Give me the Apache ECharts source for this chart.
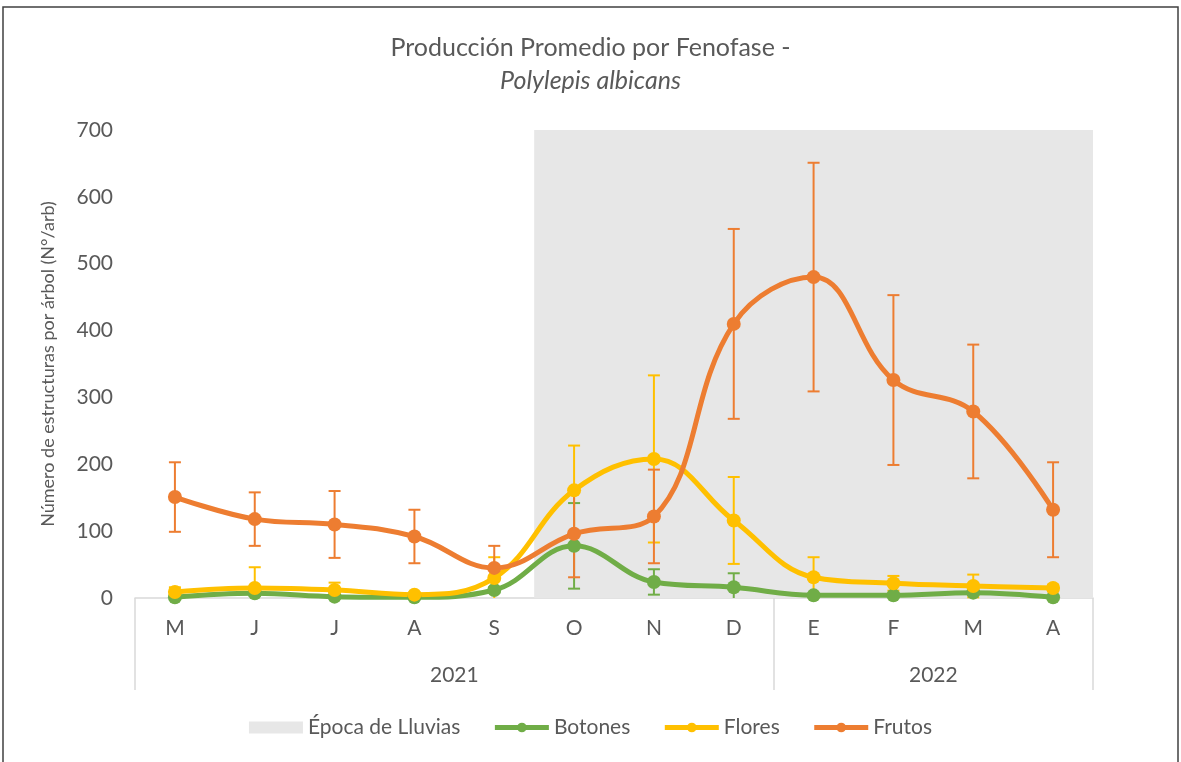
<!DOCTYPE html>
<html>
<head>
<meta charset="utf-8">
<script src="https://cdn.jsdelivr.net/npm/echarts@6/dist/echarts.min.js"></script>
<style>
  html, body { margin: 0; padding: 0; background: #fff; }
  #main { width: 1181px; height: 762px; }
</style>
</head>
<body>
<div id="main"></div>
<script>
// meses (mayo 2021 - abril 2022)
var months = ['M', 'J', 'J', 'A', 'S', 'O', 'N', 'D', 'E', 'F', 'M', 'A'];
var years = ['2021', '2022'];
var yearTicks = [0, 8, 12];      // límites de grupos (en índices de mes)
var yearCenters = [4, 10];
var rainStart = 5, rainEnd = 12; // Octubre a Abril

var botones    = [1, 7, 2, 1, 12, 78, 24, 16, 4, 4, 8, 1];
var botonesErr = [2, 4, 2, 1, 4, 64, 19, 21, 2, 2, 3, 2];
var flores     = [9, 15, 12, 5, 30, 161, 208, 116, 31, 22, 18, 15];
var floresErr  = [7, 31, 11, 3, 31, 67, 125, 65, 30, 11, 17, 5];
var frutos     = [151, 118, 110, 92, 45, 96, 122, 410, 480, 326, 279, 132];
var frutosErr  = [52, 40, 50, 40, 33, 65, 70, 142, 171, 127, 100, 71];

var cGreen = '#70AD47', cYellow = '#FFC000', cOrange = '#ED7D31';
var txt = '#595959';
var font = 'Lato, "Open Sans", sans-serif';

var chart = echarts.init(document.getElementById('main'));

function errData(vals, errs) {
  return vals.map(function (v, i) { return [i, v, errs[i]]; });
}

function errSeries(name, vals, errs, color) {
  return {
    name: name,
    type: 'custom',
    xAxisIndex: 0,
    z: 3,
    silent: true,
    data: errData(vals, errs),
    encode: { x: 0, y: [1] },
    renderItem: function (params, api) {
      var x = api.value(0), v = api.value(1), e = api.value(2);
      var top = api.coord([x, v + e]);
      var bot = api.coord([x, Math.max(v - e, 0)]);
      var w = 6;
      var st = { stroke: color, lineWidth: 2 };
      var kids = [
        { type: 'line', shape: { x1: top[0], y1: top[1], x2: bot[0], y2: bot[1] }, style: st },
        { type: 'line', shape: { x1: top[0] - w, y1: top[1], x2: top[0] + w, y2: top[1] }, style: st }
      ];
      if (v - e > 0) {
        kids.push({ type: 'line', shape: { x1: bot[0] - w, y1: bot[1], x2: bot[0] + w, y2: bot[1] }, style: st });
      }
      return { type: 'group', children: kids };
    }
  };
}

function lineSeries(name, vals, color) {
  return {
    name: name,
    type: 'line',
    xAxisIndex: 0,
    z: 4,
    data: vals,
    smooth: 0.4,
    symbol: 'circle',
    symbolSize: 14,
    lineStyle: { width: 5, color: color },
    itemStyle: { color: color },
    emphasis: { disabled: true }
  };
}

var option = {
  backgroundColor: '#fff',
  animation: false,
  textStyle: { fontFamily: font },
  title: {
    left: 'center',
    top: 26,
    text: '{a|Producción Promedio por Fenofase -}\n{b|Polylepis albicans}',
    textStyle: {
      rich: {
        a: { fontSize: 25, color: txt, fontFamily: font, fontWeight: 'normal', lineHeight: 33 },
        b: { fontSize: 25, color: txt, fontFamily: font, fontWeight: 'normal', fontStyle: 'italic', lineHeight: 33 }
      }
    }
  },
  graphic: [{
    type: 'rect',
    shape: { x: 3, y: 7, width: 1175, height: 760 },
    style: { fill: 'none', stroke: '#404040', lineWidth: 1.5 },
    silent: true
  }],
  legend: {
    top: 712,
    left: 'center',
    itemWidth: 54,
    itemHeight: 12,
    itemGap: 32,
    lineStyle: { width: 5 },
    textStyle: { fontSize: 21, color: txt, fontFamily: font },
    data: [
      { name: 'Época de Lluvias', icon: 'rect', itemStyle: { color: '#E7E7E7' } },
      'Botones', 'Flores', 'Frutos'
    ]
  },
  grid: { left: 135, right: 88, top: 130, bottom: 164 },
  xAxis: [{
    type: 'category',
    data: months,
    boundaryGap: true,
    axisLine: { show: false },
    axisTick: { show: false },
    axisLabel: { fontSize: 21, color: txt, margin: 20, fontFamily: font }
  }, {
    type: 'value',
    min: 0,
    max: 12,
    position: 'bottom',
    splitLine: { show: false },
    axisLine: { show: true, lineStyle: { color: '#D9D9D9', width: 1.5 } },
    axisTick: {
      show: true, customValues: yearTicks, length: 92, inside: false,
      lineStyle: { color: '#D9D9D9', width: 1.5 }
    },
    axisLabel: {
      customValues: yearCenters, margin: 67, fontSize: 21, color: txt, fontFamily: font,
      formatter: function (v) { return v === yearCenters[0] ? years[0] : years[1]; }
    }
  }],
  yAxis: {
    type: 'value',
    min: 0,
    max: 700,
    interval: 100,
    name: 'Número de estructuras por árbol (N°/arb)',
    nameLocation: 'middle',
    nameGap: 78,
    nameTextStyle: { fontSize: 18, color: txt, fontFamily: font },
    axisLine: { show: false },
    axisTick: { show: false },
    splitLine: { show: false },
    axisLabel: { fontSize: 21, color: txt, margin: 22, fontFamily: font }
  },
  series: [
    {
      name: 'Época de Lluvias',
      type: 'line',
      xAxisIndex: 1,
      data: [],
      z: 1,
      itemStyle: { color: '#E7E7E7' },
      markArea: {
        silent: true,
        itemStyle: { color: '#E7E7E7' },
        data: [[{ xAxis: rainStart, yAxis: 0 }, { xAxis: rainEnd, yAxis: 700 }]]
      }
    },
    errSeries('errBotones', botones, botonesErr, cGreen),
    lineSeries('Botones', botones, cGreen),
    errSeries('errFlores', flores, floresErr, cYellow),
    lineSeries('Flores', flores, cYellow),
    errSeries('errFrutos', frutos, frutosErr, cOrange),
    lineSeries('Frutos', frutos, cOrange)
  ]
};

chart.setOption(option);
</script>
</body>
</html>
